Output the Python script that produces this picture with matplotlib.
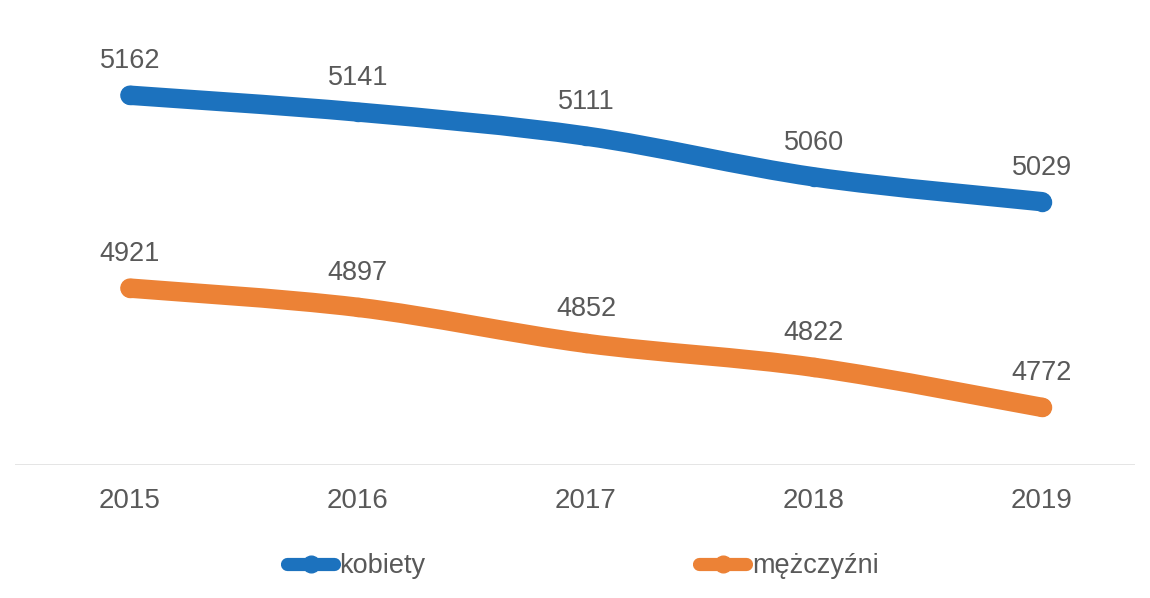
import matplotlib.pyplot as plt
from matplotlib.path import Path
from matplotlib.patches import PathPatch
from matplotlib.lines import Line2D

years = ['2015', '2016', '2017', '2018', '2019']
kobiety = [5162, 5141, 5111, 5060, 5029]
mezczyzni = [4921, 4897, 4852, 4822, 4772]

blue = '#1C72BE'
orange = '#EC8236'
grey = '#595959'

plt.rcParams['font.family'] = ['Liberation Sans', 'DejaVu Sans']


def smooth_path(xs, ys):
    # excel-like smoothed line: cubic bezier through the points
    pts = list(zip(xs, ys))
    verts = [pts[0]]
    codes = [Path.MOVETO]
    n = len(pts)
    for i in range(n - 1):
        p0 = pts[max(i - 1, 0)]
        p1 = pts[i]
        p2 = pts[i + 1]
        p3 = pts[min(i + 2, n - 1)]
        c1 = (p1[0] + (p2[0] - p0[0]) / 6, p1[1] + (p2[1] - p0[1]) / 6)
        c2 = (p2[0] - (p3[0] - p1[0]) / 6, p2[1] - (p3[1] - p1[1]) / 6)
        verts += [c1, c2, p2]
        codes += [Path.CURVE4] * 3
    return Path(verts, codes)


fig = plt.figure(figsize=(11.5, 5.98), dpi=100)
ax = fig.add_axes([15 / 1150, 133 / 598, 1120 / 1150, 465 / 598])

x = list(range(len(years)))
for vals, col in [(kobiety, blue), (mezczyzni, orange)]:
    ax.add_patch(PathPatch(smooth_path(x, vals), facecolor='none', edgecolor=col,
                           lw=14, capstyle='round', joinstyle='round'))
    ax.plot(x, vals, 'o', color=col, markersize=14, markeredgewidth=0)
    for xi, v in zip(x, vals):
        ax.annotate(str(v), (xi, v), xytext=(0, 24.5), textcoords='offset points',
                    ha='center', va='center', fontsize=19.5, color=grey)

ax.axhline(4700, color='#e0e0e0', lw=1.2)
ax.set_xlim(-0.504, 4.408)
ax.set_ylim(4700, 5281)
ax.set_xticks(x)
ax.set_xticklabels(years, fontsize=20, color=grey)
ax.set_yticks([])
ax.tick_params(axis='x', length=0, pad=16.5)
for s in ax.spines.values():
    s.set_visible(False)

handles = [Line2D([], [], color=blue, lw=9.5, marker='o', markersize=12, solid_capstyle='round'),
           Line2D([], [], color=orange, lw=9.5, marker='o', markersize=12, solid_capstyle='round')]
leg = fig.legend(handles, ['kobiety', 'mężczyźni'], loc='center left',
                 bbox_to_anchor=(287 / 1150, 1 - 566 / 598), ncol=2, frameon=False,
                 fontsize=19.5, handlelength=1.74, handletextpad=0.2,
                 columnspacing=10.1, borderpad=0, borderaxespad=0)
for t in leg.get_texts():
    t.set_color(grey)

plt.savefig('out.png', dpi=100)
